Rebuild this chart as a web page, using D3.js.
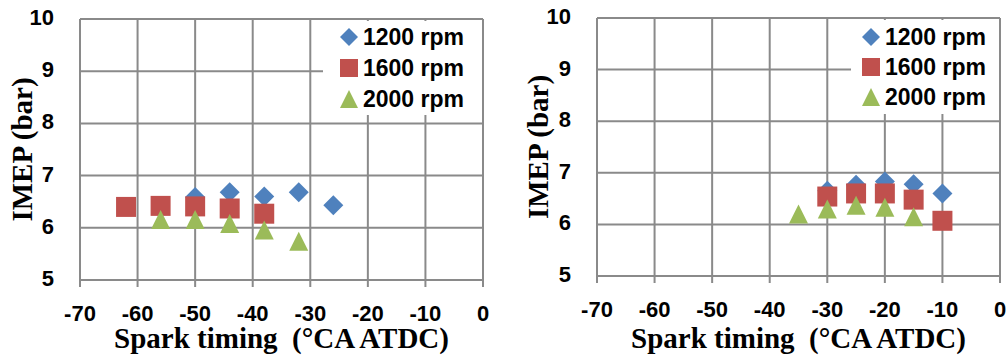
<!DOCTYPE html>
<html>
<head>
<meta charset="utf-8">
<script src="https://cdn.jsdelivr.net/npm/d3@7"></script>
<style>
  html, body { margin: 0; padding: 0; background: #fff; }
  svg { display: block; }
  .tick-label { font-family: "Liberation Sans", Arial, sans-serif; font-weight: bold; font-size: 22px; fill: #000; }
  .legend-label { font-family: "Liberation Sans", Arial, sans-serif; font-weight: bold; font-size: 23px; fill: #000; }
  .axis-title { font-family: "Liberation Serif", "Times New Roman", serif; font-weight: bold; font-size: 29px; fill: #000; white-space: pre; }
</style>
</head>
<body>
<svg id="chart" width="1008" height="356"></svg>
<script>
// ---------- data ----------
const xTicks = [-70, -60, -50, -40, -30, -20, -10, 0];
const yTicks = [5, 6, 7, 8, 9, 10];
const seriesNames = ["1200 rpm", "1600 rpm", "2000 rpm"];
const seriesColors = ["#4F81BD", "#C0504D", "#9BBB59"];
const xTitle = "Spark timing  (\u00B0CA ATDC)";
const yTitle = "IMEP (bar)";

// left panel
const leftX1200 = [-50, -44, -38, -32, -26];
const leftY1200 = [6.59, 6.68, 6.60, 6.68, 6.43];
const leftX1600 = [-62, -56, -50, -44, -38];
const leftY1600 = [6.40, 6.42, 6.41, 6.37, 6.27];
const leftX2000 = [-56, -50, -44, -38, -32];
const leftY2000 = [6.16, 6.16, 6.08, 5.96, 5.74];

// right panel
const rightX1200 = [-30, -25, -20, -15, -10];
const rightY1200 = [6.65, 6.77, 6.83, 6.78, 6.60];
const rightX1600 = [-30, -25, -20, -15, -10];
const rightY1600 = [6.54, 6.60, 6.60, 6.48, 6.07];
const rightX2000 = [-35, -30, -25, -20, -15];
const rightY2000 = [6.20, 6.30, 6.37, 6.33, 6.15];

// ---------- drawing ----------
const svg = d3.select("#chart");
const gridColor = "#8a8a8a";

// Excel-style marker shapes; size = (bounding box width)^2
const excelDiamond = { draw(ctx, size) { const r = Math.sqrt(size) / 2;
  ctx.moveTo(0, -r); ctx.lineTo(r, 0); ctx.lineTo(0, r); ctx.lineTo(-r, 0); ctx.closePath(); } };
const excelSquare = { draw(ctx, size) { const r = Math.sqrt(size) / 2;
  ctx.rect(-r, -r, 2 * r, 2 * r); } };
const excelTriangle = { draw(ctx, size) { const r = Math.sqrt(size) / 2;
  ctx.moveTo(0, -r); ctx.lineTo(r, r); ctx.lineTo(-r, r); ctx.closePath(); } };

function zip(xs, ys) { return xs.map((x, i) => ({ x: x, y: ys[i] })); }

function drawPanel(box, series, titleX) {
  const g = svg.append("g");
  const x = d3.scaleLinear().domain([xTicks[0], xTicks[xTicks.length - 1]]).range([box.left, box.right]);
  const y = d3.scaleLinear().domain([yTicks[0], yTicks[yTicks.length - 1]]).range([box.bottom, box.top]);

  // horizontal gridlines
  g.selectAll(".hg").data(yTicks).join("line")
    .attr("x1", box.left).attr("x2", box.right)
    .attr("y1", d => y(d)).attr("y2", d => y(d))
    .attr("stroke", gridColor).attr("stroke-width", 2);
  // vertical gridlines (extend below axis as tick marks)
  g.selectAll(".vg").data(xTicks).join("line")
    .attr("x1", d => x(d)).attr("x2", d => x(d))
    .attr("y1", box.top).attr("y2", box.bottom + 7)
    .attr("stroke", gridColor).attr("stroke-width", 2);

  // tick labels
  g.selectAll(".xl").data(xTicks).join("text")
    .attr("class", "tick-label")
    .attr("x", d => x(d)).attr("y", box.bottom + 41)
    .attr("text-anchor", "middle")
    .text(d => d);
  g.selectAll(".yl").data(yTicks).join("text")
    .attr("class", "tick-label")
    .attr("x", box.left - 26).attr("y", d => y(d) + 6)
    .attr("text-anchor", "end")
    .text(d => d);

  // axis titles
  g.append("text").attr("class", "axis-title")
    .attr("x", (box.left + box.right) / 2).attr("y", 348)
    .attr("text-anchor", "middle").text(xTitle);
  g.append("text").attr("class", "axis-title")
    .attr("transform", `translate(${titleX},${(box.top + box.bottom) / 2}) rotate(-90)`)
    .attr("text-anchor", "middle").text(yTitle);

  // legend background
  const lg = box.legend;
  g.append("rect").attr("x", lg.x0).attr("y", box.top + 2)
    .attr("width", box.right - 1 - lg.x0).attr("height", lg.h)
    .attr("fill", "#fff");

  const shapes = [excelDiamond, excelSquare, excelTriangle];
  const sizes = [400, 400, 361];
  const legendSizes = [324, 324, 324];

  series.forEach((s, i) => {
    const sym = d3.symbol().type(shapes[i]).size(sizes[i]);
    g.selectAll(".m" + i).data(zip(s.xs, s.ys)).join("path")
      .attr("d", sym)
      .attr("transform", d => `translate(${x(d.x)},${y(d.y)})`)
      .attr("fill", seriesColors[i]);
    // legend entry
    const ly = lg.rows[i];
    const lsym = d3.symbol().type(shapes[i]).size(legendSizes[i]);
    g.append("path").attr("d", lsym)
      .attr("transform", `translate(${lg.mx},${ly})`)
      .attr("fill", seriesColors[i]);
    g.append("text").attr("class", "legend-label")
      .attr("x", lg.tx).attr("y", ly + 8)
      .text(seriesNames[i]);
  });
}

drawPanel(
  { left: 80, right: 483, top: 19, bottom: 280,
    legend: { x0: 323, h: 94, mx: 349, tx: 363, rows: [37, 68, 99] } },
  [ { xs: leftX1200, ys: leftY1200 },
    { xs: leftX1600, ys: leftY1600 },
    { xs: leftX2000, ys: leftY2000 } ],
  32
);

drawPanel(
  { left: 597, right: 1000, top: 18, bottom: 276,
    legend: { x0: 851, h: 94, mx: 871, tx: 885, rows: [37, 67, 97] } },
  [ { xs: rightX1200, ys: rightY1200 },
    { xs: rightX1600, ys: rightY1600 },
    { xs: rightX2000, ys: rightY2000 } ],
  548
);
</script>
</body>
</html>
